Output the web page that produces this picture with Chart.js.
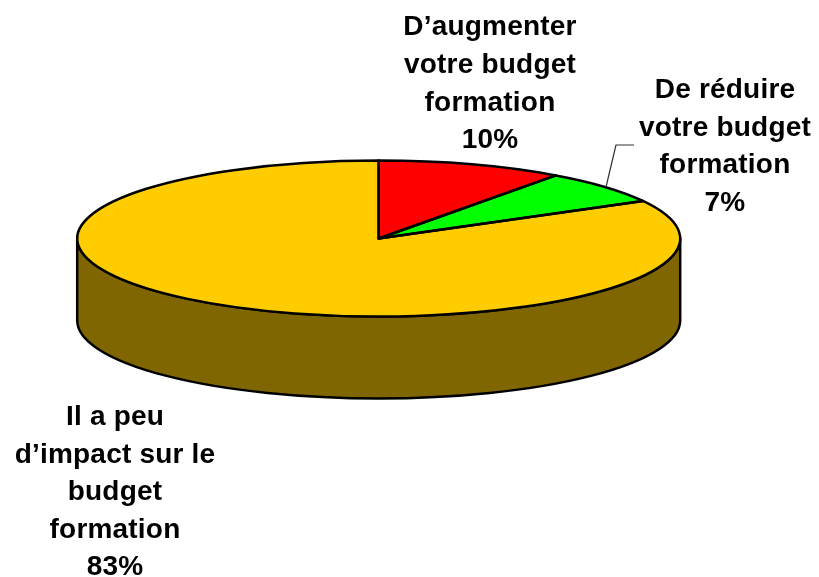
<!DOCTYPE html>
<html>
<head>
<meta charset="utf-8">
<style>
  html, body { margin: 0; padding: 0; background: #fff; }
  canvas { display: block; }
</style>
<script src="https://cdn.jsdelivr.net/npm/chart.js@4"></script>
</head>
<body>
<canvas id="myChart" width="819" height="577"></canvas>
<script>
// data
const categories = ["D’augmenter votre budget formation", "De réduire votre budget formation", "Il a peu d’impact sur le budget formation"];
const values = [10, 7, 83];
const sliceColors = ["#ff0000", "#00ff00", "#ffcc00"];
const sliceLabels = [
  ["D’augmenter", "votre budget", "formation", "10%"],
  ["De réduire", "votre budget", "formation", "7%"],
  ["Il a peu", "d’impact sur le", "budget", "formation", "83%"]
];

// where the flattened pie sits on the page
const pie3d = { cx: 378.7, cy: 238.5, rx: 301.5, ry: 78, depth: 82, side: "#806600" };
// label centre x and first baseline
const labelPos = [
  { x: 490, y: 35, step: 37.8 },
  { x: 725, y: 98, step: 37.5 },
  { x: 115, y: 425, step: 37.6 }
];

// apply the pie's squash to the context
function squash(ctx, el) {
  ctx.translate(pie3d.cx, pie3d.cy);
  ctx.scale(pie3d.rx / el.outerRadius, pie3d.ry / el.outerRadius);
  ctx.translate(-el.x, -el.y);
}

const flatPie = {
  id: "flatPie",
  beforeDatasetsDraw(chart) {
    let ctx = chart.ctx;
    let el = chart.getDatasetMeta(0).data[0];
    let r = el.outerRadius;
    let drop = pie3d.depth * r / pie3d.ry;

    // side wall under the front half
    ctx.save();
    squash(ctx, el);
    ctx.beginPath();
    ctx.arc(el.x, el.y, r, Math.PI, 0, true);
    ctx.arc(el.x, el.y + drop, r, 0, Math.PI, false);
    ctx.closePath();
    ctx.restore();
    ctx.fillStyle = pie3d.side;
    ctx.fill();
    ctx.lineWidth = 2.5;
    ctx.strokeStyle = "#000";
    ctx.lineJoin = "round";
    ctx.stroke();

    ctx.save();
    squash(ctx, el);
  },
  afterDatasetsDraw(chart) {
    let ctx = chart.ctx;
    ctx.restore();

    // outlines, stroked unsquashed so the width stays even
    chart.getDatasetMeta(0).data.forEach(el => {
      ctx.save();
      squash(ctx, el);
      ctx.beginPath();
      ctx.moveTo(el.x, el.y);
      ctx.arc(el.x, el.y, el.outerRadius, el.startAngle, el.endAngle);
      ctx.closePath();
      ctx.restore();
      ctx.lineWidth = 2.5;
      ctx.strokeStyle = "#000";
      ctx.lineJoin = "round";
      ctx.stroke();
    });

    // leader for the green slice
    ctx.beginPath();
    ctx.moveTo(606, 187);
    ctx.lineTo(616, 145);
    ctx.lineTo(634, 145);
    ctx.lineWidth = 1.2;
    ctx.strokeStyle = "#333";
    ctx.stroke();

    // labels
    ctx.fillStyle = "#000";
    ctx.font = "bold 28px 'Liberation Sans', Arial, sans-serif";
    ctx.letterSpacing = "0.2px";
    ctx.textAlign = "center";
    ctx.textBaseline = "alphabetic";
    sliceLabels.forEach((lines, i) => {
      lines.forEach((line, j) => {
        ctx.fillText(line, labelPos[i].x, labelPos[i].y + j * labelPos[i].step);
      });
    });
  }
};

let ctx = document.getElementById("myChart").getContext("2d");
let myChart = new Chart(ctx, {
  type: "pie",
  data: {
    labels: categories,
    datasets: [{
      data: values,
      backgroundColor: sliceColors,
      borderWidth: 0,
      clip: false
    }]
  },
  options: {
    responsive: false,
    animation: false,
    layout: { padding: 0 },
    plugins: { legend: { display: false }, tooltip: { enabled: false } }
  },
  plugins: [flatPie]
});
</script>
</body>
</html>
